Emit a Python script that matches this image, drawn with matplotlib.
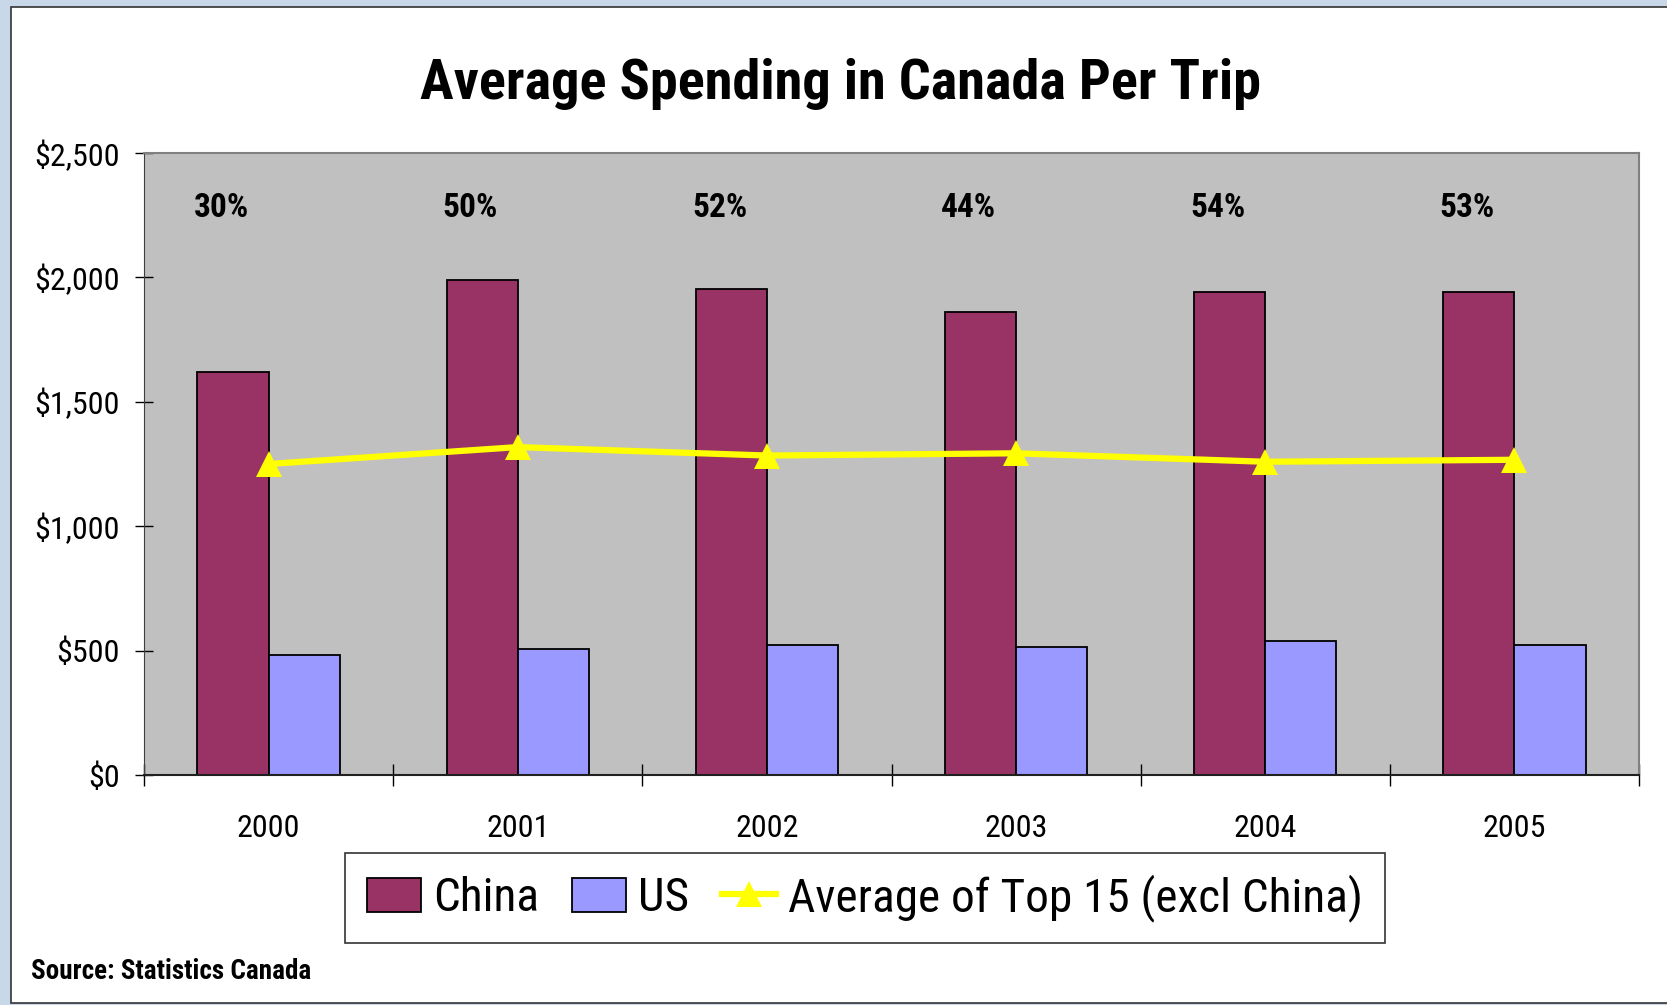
import numpy as np
import matplotlib
matplotlib.use("Agg")
from matplotlib import pyplot as plt
from matplotlib.patches import Rectangle, Patch
from matplotlib.lines import Line2D
from matplotlib.ticker import FuncFormatter, FixedLocator

plt.rcParams['font.family'] = ['Roboto Condensed', 'Archivo Narrow', 'Liberation Sans Narrow', 'DejaVu Sans']
plt.rcParams['font.stretch'] = 'condensed'

anos = ["2000", "2001", "2002", "2003", "2004", "2005"]
china = [1620, 1990, 1952, 1862, 1943, 1943]
eua = [484, 505, 522, 514, 539, 522]
media_top15 = [1250, 1318, 1284, 1293, 1259, 1267]
percentuais = ["30%", "50%", "52%", "44%", "54%", "53%"]

cor_china = "#993366"
cor_eua = "#9999FF"
cor_linha = "#FFFF00"

fig = plt.figure(figsize=(16.67, 10.05), dpi=100, facecolor="#C8D8E8")
fig.patches.append(Rectangle((11 / 1667, 2 / 1005), 1.0, 996 / 1005,
                             transform=fig.transFigure, facecolor="white",
                             edgecolor="#333333", linewidth=1.2, zorder=-1))

ax = fig.add_axes([144 / 1667, 230 / 1005, 1495 / 1667, 622 / 1005])
ax.set_facecolor("#C0C0C0")

x = np.arange(len(anos))
larg = 0.2857
ax.bar(x - larg / 2, china, larg, color=cor_china, edgecolor="black", linewidth=1.3, zorder=2)
ax.bar(x + larg / 2, eua, larg, color=cor_eua, edgecolor="black", linewidth=1.3, zorder=2)
ax.plot(x, media_top15, color=cor_linha, linewidth=4.5, marker="^", markersize=19,
        markeredgewidth=0, zorder=3)

for xi, p in zip(x, percentuais):
    ax.text(xi - 0.19, 2280, p, ha="center", va="center", fontsize=24,
            fontweight="bold")

ax.set_xlim(-0.5, len(anos) - 0.5)
ax.set_ylim(0, 2500)
ax.set_yticks(np.arange(0, 2501, 500))
ax.yaxis.set_major_formatter(FuncFormatter(lambda v, pos: "${:,.0f}".format(v)))
ax.tick_params(axis="y", direction="inout", length=13, width=1, pad=11, labelsize=23)

ax.xaxis.set_major_locator(FixedLocator(np.arange(-0.5, len(anos), 1.0)))
ax.xaxis.set_minor_locator(FixedLocator(x))
ax.set_xticks(x, anos, minor=True)
ax.tick_params(axis="x", which="major", direction="inout", length=16, width=1, labelbottom=False)
ax.tick_params(axis="x", which="minor", length=0, pad=28, labelsize=23)

for lado in ["top", "right"]:
    ax.spines[lado].set_color("#808080")
    ax.spines[lado].set_linewidth(1.5)
ax.spines["left"].set_color("#404040")
ax.spines["bottom"].set_color("#202020")
ax.spines["bottom"].set_linewidth(1.5)

fig.text(840 / 1667, 1 - 84 / 1005, "Average Spending in Canada Per Trip",
         ha="center", va="center", fontsize=40.5, fontweight="bold")
fig.text(31 / 1667, 1 - 971 / 1005, "Source: Statistics Canada",
         ha="left", va="center", fontsize=19.5, fontweight="bold")

alcas = [Patch(facecolor=cor_china, edgecolor="black", linewidth=1.3),
         Patch(facecolor=cor_eua, edgecolor="black", linewidth=1.3),
         Line2D([], [], color=cor_linha, linewidth=4.5, marker="^", markersize=19,
                markeredgewidth=0)]
leg = fig.legend(alcas, ["China", "US", "Average of Top 15 (excl China)"],
                 loc="center", bbox_to_anchor=(865 / 1667, 1 - 898 / 1005),
                 ncol=3, fontsize=34, frameon=True, fancybox=False,
                 edgecolor="black", handlelength=1.15, handleheight=0.75,
                 handletextpad=0.25, columnspacing=0.7, borderpad=0.45)
leg.get_frame().set_linewidth(1.2)

fig.savefig("out.png", dpi=100, facecolor=fig.get_facecolor())
